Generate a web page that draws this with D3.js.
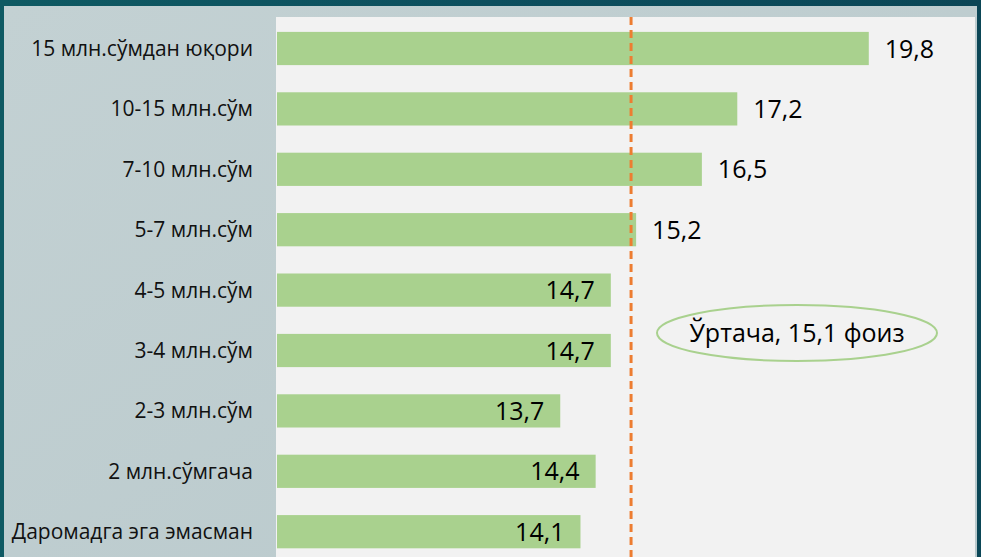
<!DOCTYPE html>
<html>
<head>
<meta charset="utf-8">
<script src="https://cdn.jsdelivr.net/npm/d3@7"></script>
<style>
  body { margin: 0; background: #0e4d5c; }
  svg { display: block; }
</style>
</head>
<body>
<script>
// ********************** DATA **************************************************************
var categories = [
  "15 млн.сўмдан юқори",
  "10-15 млн.сўм",
  "7-10 млн.сўм",
  "5-7 млн.сўм",
  "4-5 млн.сўм",
  "3-4 млн.сўм",
  "2-3 млн.сўм",
  "2 млн.сўмгача",
  "Даромадга эга эмасман"
];
var values = [19.8, 17.2, 16.5, 15.2, 14.7, 14.7, 13.7, 14.4, 14.1];
var averageValue = 15.1;
var averageLabel = "Ўртача, 15,1 фоиз";

// ********************** LAYOUT **************************************************************
var width = 981;
var height = 557;
var plotLeft = 277;
var plotRight = 975;
var fontFamily = "'Open Sans', 'Noto Sans', sans-serif";

var svg = d3.select("body")
  .append("svg")
  .attr("width", width)
  .attr("height", height);

// background gradients for the dark frame and the light panel
var defs = svg.append("defs");
var frameGrad = defs.append("linearGradient")
  .attr("id", "frame-grad")
  .attr("x1", "0").attr("y1", "0").attr("x2", "1").attr("y2", "0");
frameGrad.append("stop").attr("offset", "0").attr("stop-color", "#0f5a63");
frameGrad.append("stop").attr("offset", "0.5").attr("stop-color", "#0d4f5e");
frameGrad.append("stop").attr("offset", "1").attr("stop-color", "#0b4656");

var panelGrad = defs.append("linearGradient")
  .attr("id", "panel-grad")
  .attr("x1", "0").attr("y1", "0").attr("x2", "1").attr("y2", "1");
panelGrad.append("stop").attr("offset", "0").attr("stop-color", "#c3d1d3");
panelGrad.append("stop").attr("offset", "1").attr("stop-color", "#b9c9cc");

svg.append("rect")
  .attr("width", width)
  .attr("height", height)
  .attr("fill", "url(#frame-grad)");

// light panel
svg.append("rect")
  .attr("x", 4)
  .attr("y", 6)
  .attr("width", width - 8)
  .attr("height", height - 6)
  .attr("fill", "url(#panel-grad)");

// plot area
svg.append("rect")
  .attr("x", plotLeft - 1)
  .attr("y", 17)
  .attr("width", plotRight - plotLeft + 1)
  .attr("height", height - 17)
  .attr("fill", "#f2f2f2");

// ********************** SCALES **************************************************************
var x = d3.scaleLinear()
  .domain([8.1, 21.9])
  .range([plotLeft, plotRight]);

var y = d3.scaleBand()
  .domain(categories)
  .range([18.3, 18.3 + 60.4 * categories.length])
  .paddingInner(0.45)
  .paddingOuter(0.225);

// ********************** BARS **************************************************************
var rows = categories.map(function(c, i) { return { name: c, value: values[i] }; });

svg.selectAll(".bar")
  .data(rows)
  .enter().append("rect")
  .attr("class", "bar")
  .attr("x", x.range()[0])
  .attr("y", function(d) { return y(d.name); })
  .attr("width", function(d) { return x(d.value) - x.range()[0]; })
  .attr("height", y.bandwidth())
  .attr("fill", "#a9d18e");

// value labels: outside for long bars, inside for short ones
svg.selectAll(".value-label")
  .data(rows)
  .enter().append("text")
  .attr("class", "value-label")
  .attr("x", function(d) { return d.value > averageValue ? x(d.value) + 16 : x(d.value) - 16; })
  .attr("y", function(d) { return y(d.name) + y.bandwidth() / 2; })
  .attr("dy", "0.36em")
  .attr("text-anchor", function(d) { return d.value > averageValue ? "start" : "end"; })
  .text(function(d) { return String(d.value).replace(".", ","); })
  .style("font-size", "25px")
  .style("font-family", fontFamily)
  .style("fill", "#000");

// category labels
svg.selectAll(".cat-label")
  .data(rows)
  .enter().append("text")
  .attr("class", "cat-label")
  .attr("x", 253)
  .attr("y", function(d) { return y(d.name) + y.bandwidth() / 2; })
  .attr("dy", "0.36em")
  .attr("text-anchor", "end")
  .text(function(d) { return d.name; })
  .style("font-size", "21px")
  .style("font-family", fontFamily)
  .style("fill", "#111");

// ********************** AVERAGE LINE **************************************************************
svg.append("line")
  .attr("x1", x(averageValue))
  .attr("x2", x(averageValue))
  .attr("y1", 17)
  .attr("y2", height)
  .attr("stroke", "#ed7d31")
  .attr("stroke-width", 3)
  .attr("stroke-dasharray", "8,5");

// average callout
var calloutX = 797;
var calloutY = 333;
svg.append("ellipse")
  .attr("cx", calloutX)
  .attr("cy", calloutY)
  .attr("rx", 140)
  .attr("ry", 28)
  .attr("fill", "none")
  .attr("stroke", "#a9d18e")
  .attr("stroke-width", 2);

svg.append("text")
  .attr("x", calloutX)
  .attr("y", calloutY)
  .attr("dy", "0.36em")
  .attr("text-anchor", "middle")
  .text(averageLabel)
  .style("font-size", "25px")
  .style("font-family", fontFamily)
  .style("fill", "#000");
</script>
</body>
</html>
